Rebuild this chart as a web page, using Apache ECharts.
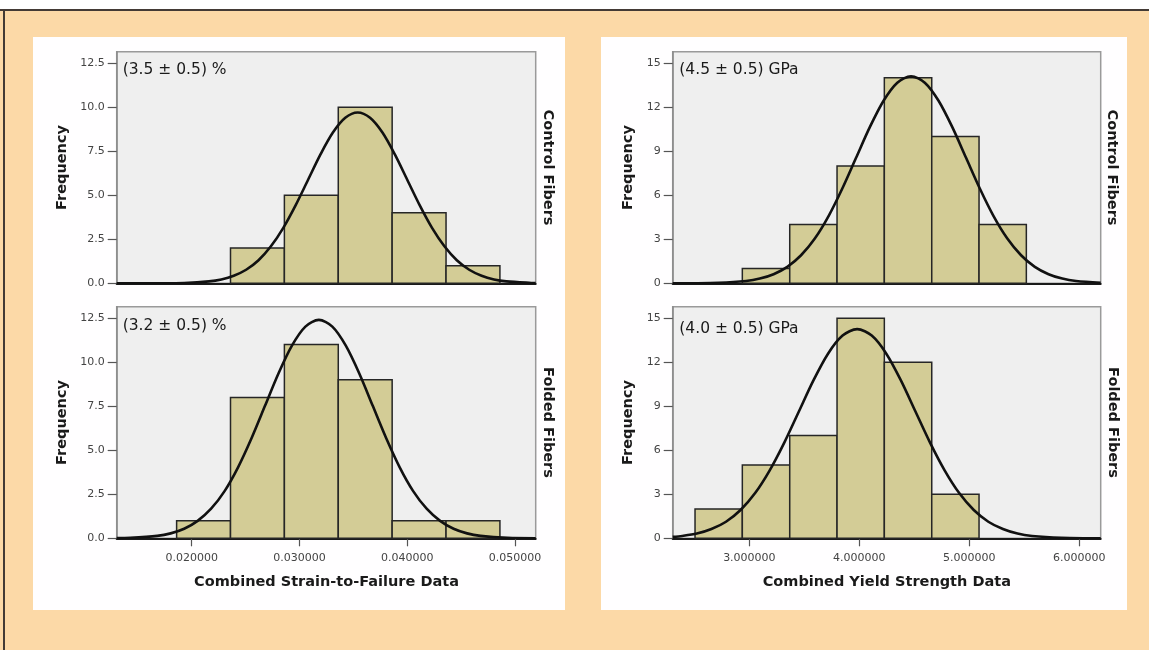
<!DOCTYPE html>
<html>
<head>
<meta charset="utf-8">
<script src="https://cdn.jsdelivr.net/npm/echarts@6/dist/echarts.min.js"></script>
<style>
  html, body { margin: 0; padding: 0; background: #ffffff; }
  #chart { width: 1149px; height: 650px; }
</style>
</head>
<body>
<div id="chart"></div>
<script>
// ---------------- data ----------------
const strainEdges = [0.0186, 0.0236, 0.0286, 0.0336, 0.0386, 0.0436, 0.0486];
const strainControlCounts = [0, 2, 5, 10, 4, 1];
const strainFoldedCounts = [1, 8, 11, 9, 1, 1];

const yieldEdges = [2.506, 2.936, 3.367, 3.797, 4.227, 4.658, 5.088, 5.518];
const yieldControlCounts = [0, 1, 4, 8, 14, 10, 4];
const yieldFoldedCounts = [2, 5, 7, 15, 12, 3, 0];

// fitted normal curves
const strainControlCurveX = [0.01304, 0.0170, 0.0193, 0.0216, 0.02275, 0.0239, 0.02505, 0.0262, 0.02735, 0.0285, 0.02965, 0.0308, 0.03195, 0.0331, 0.03425, 0.0354, 0.03655, 0.0377, 0.03885, 0.0400, 0.04115, 0.0423, 0.04345, 0.0446, 0.04575, 0.0469, 0.04805, 0.0492, 0.0515, 0.05192];
const strainControlCurveY = [0, 0.003, 0.02, 0.11, 0.22, 0.43, 0.77, 1.31, 2.10, 3.15, 4.44, 5.88, 7.32, 8.56, 9.40, 9.70, 9.40, 8.56, 7.32, 5.88, 4.44, 3.15, 2.10, 1.31, 0.77, 0.43, 0.22, 0.11, 0.02, 0.015];

const strainFoldedCurveX = [0.01304, 0.0143, 0.0168, 0.01805, 0.0193, 0.02055, 0.0218, 0.02305, 0.0243, 0.02555, 0.0268, 0.02805, 0.0293, 0.03055, 0.0318, 0.03305, 0.0343, 0.03555, 0.0368, 0.03805, 0.0393, 0.04055, 0.0418, 0.04305, 0.0443, 0.04555, 0.0468, 0.0493, 0.05192];
const strainFoldedCurveY = [0.01, 0.027, 0.14, 0.28, 0.54, 0.99, 1.68, 2.68, 4.03, 5.68, 7.52, 9.36, 10.94, 12.02, 12.40, 12.02, 10.94, 9.36, 7.52, 5.68, 4.03, 2.68, 1.68, 0.99, 0.54, 0.28, 0.14, 0.027, 0.004];

const yieldControlCurveX = [2.303, 2.47, 2.72, 2.97, 3.095, 3.22, 3.345, 3.47, 3.595, 3.72, 3.845, 3.97, 4.095, 4.22, 4.345, 4.47, 4.595, 4.72, 4.845, 4.97, 5.095, 5.22, 5.345, 5.47, 5.595, 5.72, 5.845, 5.97, 6.194];
const yieldControlCurveY = [0, 0.005, 0.031, 0.157, 0.32, 0.62, 1.12, 1.91, 3.05, 4.58, 6.46, 8.55, 10.64, 12.44, 13.67, 14.10, 13.67, 12.44, 10.64, 8.55, 6.46, 4.58, 3.05, 1.91, 1.12, 0.62, 0.32, 0.157, 0.037];

const yieldFoldedCurveX = [2.303, 2.39, 2.5225, 2.655, 2.7875, 2.92, 3.0525, 3.185, 3.3175, 3.45, 3.5825, 3.715, 3.8475, 3.98, 4.1125, 4.245, 4.3775, 4.51, 4.6425, 4.775, 4.9075, 5.04, 5.1725, 5.305, 5.4375, 5.57, 5.835, 6.10, 6.194];
const yieldFoldedCurveY = [0.095, 0.158, 0.32, 0.63, 1.13, 1.93, 3.08, 4.63, 6.52, 8.64, 10.76, 12.58, 13.81, 14.25, 13.81, 12.58, 10.76, 8.64, 6.52, 4.63, 3.08, 1.93, 1.13, 0.63, 0.32, 0.158, 0.031, 0.005, 0.003];

// axis ranges and tick labels
const strainRange = [0.01304, 0.05192];
const yieldRange = [2.303, 6.194];
const strainTicks = [0.02, 0.03, 0.04, 0.05];
const yieldTicks = [3, 4, 5, 6];
const freqTicksLeft = [0, 2.5, 5, 7.5, 10, 12.5];
const freqTicksRight = [0, 3, 6, 9, 12, 15];
const freqMaxLeft = 13.15;
const freqMaxRight = 15.78;

// texts
const annotations = ['(3.5 \u00b1 0.5) %', '(3.2 \u00b1 0.5) %', '(4.5 \u00b1 0.5) GPa', '(4.0 \u00b1 0.5) GPa'];
const rowLabels = ['Control Fibers', 'Folded Fibers'];
const xTitles = ['Combined Strain-to-Failure Data', 'Combined Yield Strength Data'];
const yTitle = 'Frequency';

// ---------------- chart ----------------
const FONT = '"DejaVu Sans", Verdana, sans-serif';
const chart = echarts.init(document.getElementById('chart'));

function bins(edges, counts) {
  const out = [];
  counts.forEach((c, i) => { if (c > 0) out.push([edges[i], edges[i + 1], c]); });
  return out;
}
function pairs(xs, ys) { return xs.map((x, i) => [x, ys[i]]); }

const grids = [
  { left: 116.7, top: 51.7, width: 419, height: 231.6 },
  { left: 116.7, top: 306.7, width: 419, height: 231.6 },
  { left: 672.7, top: 51.7, width: 428, height: 231.6 },
  { left: 672.7, top: 306.7, width: 428, height: 231.6 }
].map(g => Object.assign(g, {
  show: true, backgroundColor: '#efefef', borderColor: '#9a9a9a', borderWidth: 1.5
}));

function xAxisFor(i, range, ticks, showLabels) {
  return {
    type: 'value', gridIndex: i, min: range[0], max: range[1],
    axisLine: { show: true, onZero: false, lineStyle: { color: '#1a1a1a', width: 2 } },
    axisTick: { show: showLabels, length: 8, customValues: ticks, lineStyle: { color: '#555', width: 1.2 } },
    axisLabel: {
      show: showLabels, customValues: ticks, margin: 14,
      color: '#444', fontSize: 11, fontFamily: FONT,
      formatter: v => v.toFixed(6)
    },
    splitLine: { show: false }
  };
}
function yAxisFor(i, max, ticks, digits) {
  return {
    type: 'value', gridIndex: i, min: 0, max: max,
    axisLine: { show: true, lineStyle: { color: '#8a8a8a', width: 1.5 } },
    axisTick: { show: true, length: 9, customValues: ticks, lineStyle: { color: '#555', width: 1.2 } },
    axisLabel: {
      customValues: ticks, margin: 12, color: '#444', fontSize: 11, fontFamily: FONT,
      formatter: v => v.toFixed(digits)
    },
    splitLine: { show: false }
  };
}

function histSeries(i, data) {
  return {
    type: 'custom', xAxisIndex: i, yAxisIndex: i, data: data,
    encode: { x: [0, 1], y: 2 },
    renderItem: (params, api) => {
      const p0 = api.coord([api.value(0), 0]);
      const p1 = api.coord([api.value(1), api.value(2)]);
      return {
        type: 'rect',
        shape: { x: p0[0], y: p1[1], width: p1[0] - p0[0], height: p0[1] - p1[1] },
        style: { fill: '#d3cc96', stroke: '#262626', lineWidth: 1.5 }
      };
    },
    z: 2
  };
}
function curveSeries(i, data) {
  return {
    type: 'line', xAxisIndex: i, yAxisIndex: i, data: data,
    smooth: 0.3, showSymbol: false, symbol: 'none',
    lineStyle: { color: '#111111', width: 2.6 },
    z: 3, silent: true
  };
}

function txt(x, y, text, opts) {
  opts = opts || {};
  return {
    type: 'text', x: x, y: y, rotation: opts.rotation || 0, z: 100,
    style: {
      text: text,
      font: (opts.weight || 'normal') + ' ' + (opts.size || 14) + 'px ' + FONT,
      fill: opts.color || '#1a1a1a',
      align: opts.align || 'center', verticalAlign: 'middle',
      textAlign: opts.align || 'center', textVerticalAlign: 'middle'
    }
  };
}

const graphics = [
  { type: 'rect', shape: { x: 0, y: 0, width: 1149, height: 9 }, style: { fill: '#ffffff' }, z: -10 },
  { type: 'rect', shape: { x: 0, y: 9, width: 1149, height: 2 }, style: { fill: '#433a35' }, z: -9 },
  { type: 'rect', shape: { x: 3, y: 9, width: 2, height: 641 }, style: { fill: '#433a35' }, z: -9 },
  { type: 'rect', shape: { x: 33, y: 37, width: 532, height: 573 }, style: { fill: '#fffeff' }, z: -9 },
  { type: 'rect', shape: { x: 601, y: 37, width: 526, height: 573 }, style: { fill: '#fffeff' }, z: -9 },
  txt(62.7, 167.5, yTitle, { rotation: Math.PI / 2, weight: 'bold', size: 14.5 }),
  txt(62.7, 422.5, yTitle, { rotation: Math.PI / 2, weight: 'bold', size: 14.5 }),
  txt(628, 167.5, yTitle, { rotation: Math.PI / 2, weight: 'bold', size: 14.5 }),
  txt(628, 422.5, yTitle, { rotation: Math.PI / 2, weight: 'bold', size: 14.5 }),
  txt(548, 167.5, rowLabels[0], { rotation: -Math.PI / 2, weight: 'bold', size: 14.5 }),
  txt(548, 422.5, rowLabels[1], { rotation: -Math.PI / 2, weight: 'bold', size: 14.5 }),
  txt(1112, 167.5, rowLabels[0], { rotation: -Math.PI / 2, weight: 'bold', size: 14.5 }),
  txt(1113, 422.5, rowLabels[1], { rotation: -Math.PI / 2, weight: 'bold', size: 14.5 }),
  txt(326.5, 582.5, xTitles[0], { weight: 'bold', size: 14.5 }),
  txt(886.8, 582.5, xTitles[1], { weight: 'bold', size: 14.5 }),
  txt(122.7, 70, annotations[0], { align: 'left', size: 15.5 }),
  txt(122.7, 326, annotations[1], { align: 'left', size: 15.5 }),
  txt(679.3, 70.3, annotations[2], { align: 'left', size: 15.5 }),
  txt(679.3, 328.5, annotations[3], { align: 'left', size: 15.5 })
];

chart.setOption({
  backgroundColor: '#fcd9a7',
  animation: false,
  grid: grids,
  xAxis: [
    xAxisFor(0, strainRange, strainTicks, false),
    xAxisFor(1, strainRange, strainTicks, true),
    xAxisFor(2, yieldRange, yieldTicks, false),
    xAxisFor(3, yieldRange, yieldTicks, true)
  ],
  yAxis: [
    yAxisFor(0, freqMaxLeft, freqTicksLeft, 1),
    yAxisFor(1, freqMaxLeft, freqTicksLeft, 1),
    yAxisFor(2, freqMaxRight, freqTicksRight, 0),
    yAxisFor(3, freqMaxRight, freqTicksRight, 0)
  ],
  series: [
    histSeries(0, bins(strainEdges, strainControlCounts)),
    histSeries(1, bins(strainEdges, strainFoldedCounts)),
    histSeries(2, bins(yieldEdges, yieldControlCounts)),
    histSeries(3, bins(yieldEdges, yieldFoldedCounts)),
    curveSeries(0, pairs(strainControlCurveX, strainControlCurveY)),
    curveSeries(1, pairs(strainFoldedCurveX, strainFoldedCurveY)),
    curveSeries(2, pairs(yieldControlCurveX, yieldControlCurveY)),
    curveSeries(3, pairs(yieldFoldedCurveX, yieldFoldedCurveY))
  ],
  graphic: graphics
});
</script>
</body>
</html>
